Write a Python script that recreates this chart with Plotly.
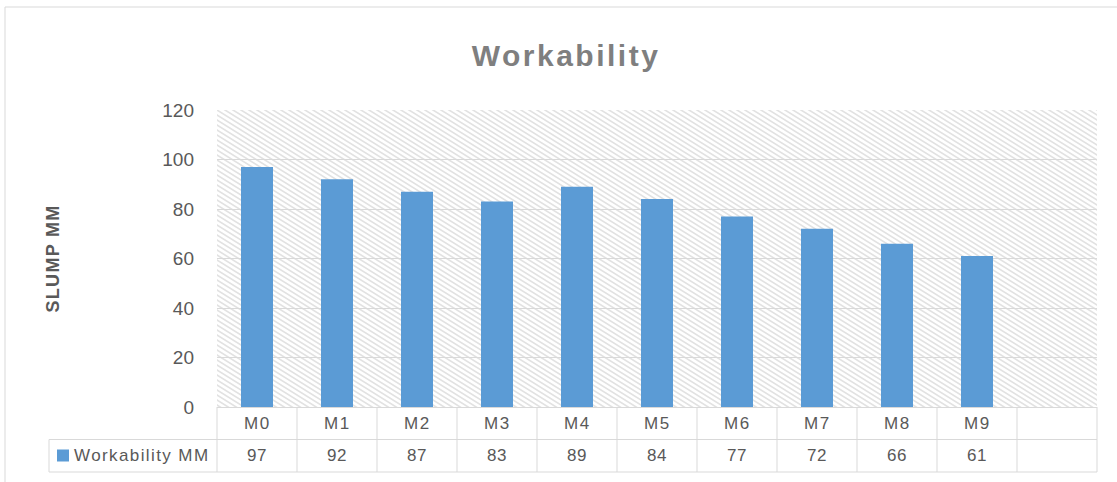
import base64
import plotly.graph_objects as go

categories = ["M0", "M1", "M2", "M3", "M4", "M5", "M6", "M7", "M8", "M9"]
workability_mm = [97, 92, 87, 83, 89, 84, 77, 72, 66, 61]
series_name = "Workability MM"
chart_title = "Workability"
y_title = "SLUMP MM"
y_ticks = [0, 20, 40, 60, 80, 100, 120]

BAR_COLOR = "#5b9bd5"
GRID = "#d9d9d9"
TEXT = "#595959"
FONT = "Liberation Sans, Arial, sans-serif"

W, H = 1117, 482
L, R, T, B = 217, 20, 110, 75
PW, PH = W - L - R, H - T - B
n_slots = len(categories) + 1          # one extra empty column as in the reference
ROW = 32.5

# hatched plot-area background (decoration)
TW, TH = 8, 5
segs = []
for dx in (-TW, 0, TW):
    for dy in (-TH, 0, TH):
        segs.append(f"M{dx - TW},{dy - TH} L{dx + 2 * TW},{dy + 2 * TH}")
svg = (
    f'<svg xmlns="http://www.w3.org/2000/svg" width="{PW}" height="{PH}" '
    f'viewBox="0 0 {PW} {PH}" preserveAspectRatio="none"><defs>'
    f'<pattern id="p" patternUnits="userSpaceOnUse" width="{TW}" height="{TH}">'
    f'<path d="{" ".join(segs)}" stroke="#e2e2e2" stroke-width="1.6"/>'
    '</pattern></defs><rect width="100%" height="100%" fill="url(#p)"/></svg>'
)
hatch_src = "data:image/svg+xml;base64," + base64.b64encode(svg.encode()).decode()


def spaced(text, px):
    return f'<span style="letter-spacing:{px}px">{text}</span>'


fig = go.Figure()
fig.add_trace(go.Bar(
    x=categories, y=workability_mm, name=series_name,
    marker=dict(color=BAR_COLOR, line=dict(width=0)),
    width=0.4, showlegend=False,
))


def px_y(p):  # pixel offset below plot bottom -> paper y
    return -p / PH


def px_x(p):  # pixel x -> paper x
    return (p - L) / PW


shapes = []
line = dict(color=GRID, width=1)
shapes.append(dict(type="line", xref="paper", yref="paper", x0=px_x(49), x1=1,
                   y0=px_y(ROW), y1=px_y(ROW), line=line))
shapes.append(dict(type="line", xref="paper", yref="paper", x0=px_x(49), x1=1,
                   y0=px_y(2 * ROW), y1=px_y(2 * ROW), line=line))
for k in range(n_slots + 1):
    xp = k / n_slots
    shapes.append(dict(type="line", xref="paper", yref="paper", x0=xp, x1=xp,
                       y0=0, y1=px_y(2 * ROW), line=line))
shapes.append(dict(type="line", xref="paper", yref="paper", x0=px_x(49), x1=px_x(49),
                   y0=px_y(ROW), y1=px_y(2 * ROW), line=line))
# legend key square
shapes.append(dict(type="rect", xref="paper", yref="paper",
                   x0=px_x(57), x1=px_x(69), y0=px_y(ROW + 10), y1=px_y(ROW + 22),
                   fillcolor=BAR_COLOR, line=dict(width=0)))
# outer chart border
shapes.append(dict(type="rect", xref="paper", yref="paper",
                   x0=px_x(5), x1=px_x(1135), y0=px_y(H + 20 - T - PH), y1=1 + (T - 7) / PH,
                   line=dict(color=GRID, width=1), fillcolor="rgba(0,0,0,0)", layer="below"))

tfont = dict(size=17, color=TEXT, family=FONT)
ann = []
for c, v in zip(categories, workability_mm):
    ann.append(dict(x=c, xref="x", y=px_y(ROW / 2), yref="paper", text=spaced(c, 1.5),
                    xanchor="center", yanchor="middle", showarrow=False, font=tfont))
    ann.append(dict(x=c, xref="x", y=px_y(ROW * 1.5), yref="paper", text=spaced(str(v), 0.5),
                    xanchor="center", yanchor="middle", showarrow=False, font=tfont))
ann.append(dict(x=px_x(72), xref="paper", y=px_y(ROW * 1.5), yref="paper",
                text=spaced(series_name, 1.4), xanchor="left", yanchor="middle",
                showarrow=False, font=tfont))
ann.append(dict(x=px_x(52), xref="paper", y=0.5, yref="paper",
                text=f"<b>{spaced(y_title, 1.3)}</b>",
                textangle=-90, xanchor="center", yanchor="middle", showarrow=False,
                font=dict(size=18, color=TEXT, family=FONT)))

fig.update_layout(
    width=W, height=H,
    margin=dict(l=L, r=R, t=T, b=B, autoexpand=False),
    paper_bgcolor="white", plot_bgcolor="white",
    title=dict(text=f"<b>{spaced(chart_title, 2.5)}</b>", x=566 / W, xref="container",
               xanchor="center", y=1 - 55 / H, yref="container", yanchor="middle",
               font=dict(size=30, color="#7f7f7f", family=FONT)),
    bargap=0.6,
    xaxis=dict(type="category", range=[-0.5, n_slots - 0.5], showticklabels=False,
               showgrid=False, showline=False, zeroline=False, ticks=""),
    yaxis=dict(range=[0, 120], tickvals=y_ticks, showgrid=True, gridcolor=GRID, gridwidth=1,
               zeroline=True, zerolinecolor=GRID, zerolinewidth=1, showline=False,
               ticks="", ticklabelstandoff=22,
               tickfont=dict(size=19, color=TEXT, family=FONT)),
    shapes=shapes, annotations=ann,
    images=[dict(source=hatch_src, xref="paper", yref="paper", x=0, y=1, sizex=1, sizey=1,
                 xanchor="left", yanchor="top", sizing="stretch", layer="below")],
    showlegend=False,
)
fig.write_html("out.html", config={"displayModeBar": False},
               post_script="document.body.style.margin='0';")
